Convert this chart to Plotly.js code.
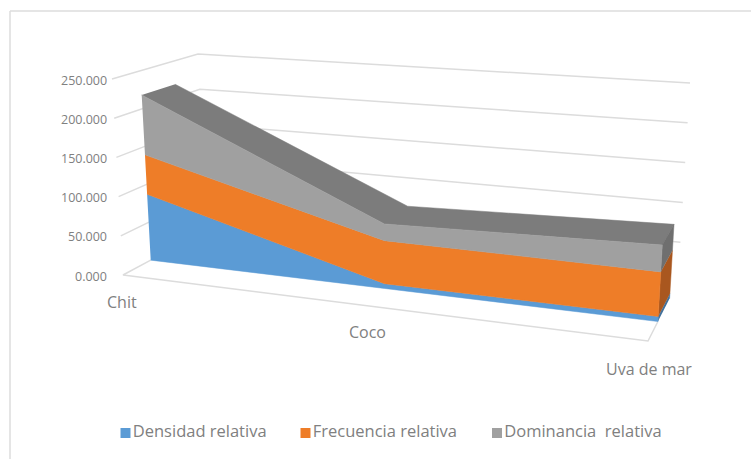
<!DOCTYPE html>
<html><head><meta charset="utf-8">
<script src="https://cdn.plot.ly/plotly-3.0.1.min.js"></script>
<style>html,body{margin:0;padding:0;background:#fff}#c{width:751px;height:459px}</style>
</head><body><div id="c"></div>
<script>
var categories = ["Chit", "Coco", "Uva de mar"];
var densidad = [87, 6, 6];
var frecuencia = [52, 54, 53];
var dominancia = [79, 21, 32];
var seriesNames = ["Densidad relativa", "Frecuencia relativa", "Dominancia  relativa"];
var valueTicks = [0, 50, 100, 150, 200, 250];
var tickLabels = ["0.000", "50.000", "100.000", "150.000", "200.000", "250.000"];
var frontColors = ["#5b9bd5", "#ee7d28", "#a0a0a0"];
var sideColors = ["#41719c", "#a9571f", "#6f6f6f"];
var topColor = "#7c7c7c";
var gridColor = "#dcdcdc";
var textColor = "#808080";
var font = "Open Sans, sans-serif";

// box corners of the 3D plot as seen on the page: [front, back] at [bottom, top]
var box = {
  L: {f: [[123, 275], [112, 79]], b: [[207, 230], [198, 54]]},
  R: {f: [[648, 341], [660, 125]], b: [[678, 282], [690, 83]]}
};
var zFront = 0.33, zBack = 0.72, persp = 1.17, maxV = 250;
function lerp(a, b, t) { return a + (b - a) * t; }
function proj(i, v, z) {
  var u0 = i / (categories.length - 1);
  var u = u0 === 0 ? 0 : u0 / (u0 + (1 - u0) * persp);
  var t = v / maxV, out = [];
  for (var k = 0; k < 2; k++) {
    var l = lerp(lerp(box.L.f[0][k], box.L.f[1][k], t), lerp(box.L.b[0][k], box.L.b[1][k], t), z);
    var r = lerp(lerp(box.R.f[0][k], box.R.f[1][k], t), lerp(box.R.b[0][k], box.R.b[1][k], t), z);
    out.push(lerp(l, r, u));
  }
  return out;
}
function poly(pts, color, name) {
  return {type: "scatter", mode: "lines", x: pts.map(function (p) { return p[0]; }), y: pts.map(function (p) { return p[1]; }),
    fill: "toself", fillcolor: color, line: {width: 0.5, color: color}, showlegend: false, hoverinfo: name ? "name" : "skip", name: name || ""};
}
function line(pts) {
  return {type: "scatter", mode: "lines", x: pts.map(function (p) { return p[0]; }), y: pts.map(function (p) { return p[1]; }),
    line: {width: 1.5, color: gridColor}, showlegend: false, hoverinfo: "skip"};
}
var traces = [];
// walls and floor
valueTicks.forEach(function (v) {
  if (v > 0) traces.push(line([proj(0, v, 0), proj(0, v, 1), proj(2, v, 1)]));
});
traces.push(line([proj(0, 0, zFront), proj(0, 0, 0), proj(2, 0, 0), proj(2, 0, zFront)]));

// stacks
var series = [densidad, frecuencia, dominancia];
var base = [0, 0, 0];
var levels = series.map(function (s) {
  var lo = base.slice();
  base = base.map(function (b, i) { return b + s[i]; });
  return {lo: lo, hi: base.slice()};
});
var idx = categories.map(function (_, i) { return i; });
var ridx = idx.slice().reverse();
// top surface
var topPts = idx.map(function (i) { return proj(i, base[i], zFront); })
  .concat(ridx.map(function (i) { return proj(i, base[i], zBack); }));
traces.push(poly(topPts, topColor));
var last = categories.length - 1;
levels.forEach(function (lv, s) {
  // side at the last category
  traces.push(poly([proj(last, lv.lo[last], zFront), proj(last, lv.hi[last], zFront),
    proj(last, lv.hi[last], zBack), proj(last, lv.lo[last], zBack)], sideColors[s]));
});
levels.forEach(function (lv, s) {
  var pts = idx.map(function (i) { return proj(i, lv.hi[i], zFront); })
    .concat(ridx.map(function (i) { return proj(i, lv.lo[i], zFront); }));
  traces.push(poly(pts, frontColors[s], seriesNames[s]));
});

// value axis labels
var tp = valueTicks.map(function (v) { return proj(0, v, 0); });
var annotations = tickLabels.map(function (t, i) {
  return {x: 109, y: tp[i][1] + 1, text: t, showarrow: false, xanchor: "right", yanchor: "middle",
    font: {family: font, size: 12.5, color: textColor}};
});
// category labels
var catPos = [[122, 302], [367, 332], [649, 369]];
categories.forEach(function (c, i) {
  annotations.push({x: catPos[i][0], y: catPos[i][1], text: c, showarrow: false, xanchor: "center", yanchor: "middle",
    font: {family: font, size: 16, color: textColor}});
});
// legend
var legendX = [125.5, 305.5, 497];
seriesNames.forEach(function (n, i) {
  traces.push({type: "scatter", mode: "markers+text", x: [legendX[i]], y: [433], text: [n],
    textposition: "middle right", textfont: {family: font, size: 16.5, color: textColor},
    marker: {symbol: "square", size: 10, color: frontColors[i]}, showlegend: false, hoverinfo: "skip", cliponaxis: false});
});

var layout = {
  width: 751, height: 459, margin: {l: 0, r: 0, t: 0, b: 0},
  paper_bgcolor: "#ffffff", plot_bgcolor: "#ffffff", showlegend: false,
  xaxis: {range: [0, 751], visible: false, fixedrange: true},
  yaxis: {range: [459, 0], visible: false, fixedrange: true},
  annotations: annotations,
  shapes: [
    {type: "line", x0: 10, x1: 10, y0: 11, y1: 459, line: {color: "#dddddd", width: 1.5}},
    {type: "line", x0: 10, x1: 751, y0: 11, y1: 11, line: {color: "#dddddd", width: 1.5}}
  ]
};
Plotly.newPlot("c", traces, layout, {displayModeBar: false, staticPlot: true});
</script></body></html>
